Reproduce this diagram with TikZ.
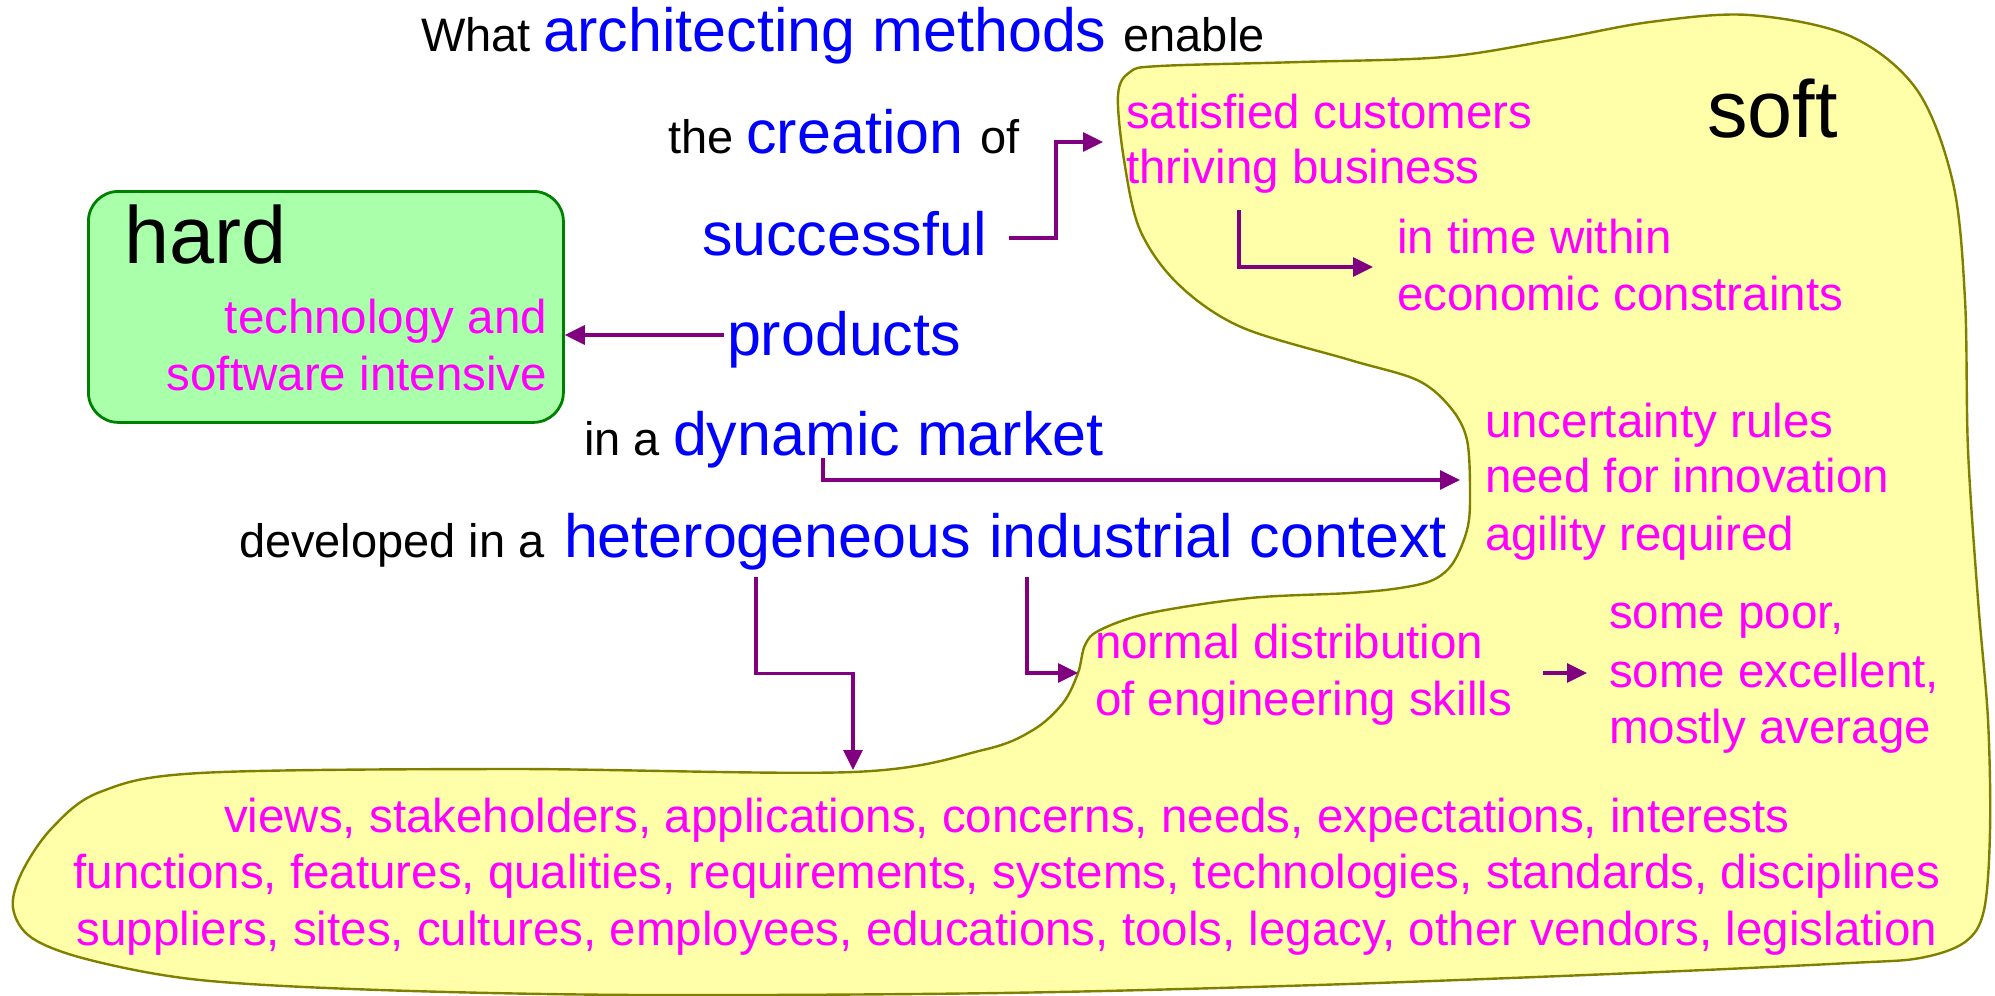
\documentclass[tikz,border=0pt]{standalone}
\usepackage{fontspec}
\setmainfont{Liberation Sans}
\usetikzlibrary{calc,arrows.meta}
\definecolor{blu}{HTML}{0000FF}
\definecolor{mag}{HTML}{FF00FF}
\definecolor{arrc}{HTML}{800080}
\definecolor{hardfill}{HTML}{AAFFAA}
\definecolor{hardline}{HTML}{008000}
\definecolor{softfill}{HTML}{FFFFAA}
\definecolor{softline}{HTML}{808000}
\newcommand{\blktxt}{\fontsize{23.5}{28}\selectfont\color{black}}
\newcommand{\blutxt}{\fontsize{30.5}{36}\selectfont\color{blu}}
\newcommand{\mgttxt}{\fontsize{23.75}{28}\selectfont}
\newcommand{\hugetxt}{\fontsize{40.5}{48}\selectfont}
\tikzset{
  txt/.style={inner sep=0pt, outer sep=0pt, anchor=base west},
  mtxt/.style={txt, font=\mgttxt, text=mag},
  qtxt/.style={txt, font=\blktxt, text=black},
  btxt/.style={txt, font=\blutxt, text=blu},
  bigtxt/.style={txt, font=\hugetxt, text=black},
  arr/.style={draw=arrc, line width=1.65pt, -{Triangle[length=10pt,width=9.5pt]}},
  hardbox/.style={draw=hardline, fill=hardfill, line width=1.4pt, rounded corners=15pt,
    minimum width=237.5pt, minimum height=115.5pt, inner sep=0pt, anchor=north west},
  softblob/.style={draw=softline, fill=softfill, line width=1.2pt},
}
\begin{document}
\begin{tikzpicture}[x=0.5pt, y=-0.5pt]
\useasboundingbox (0,0) rectangle (1995,995);
% soft region
\draw[softblob] plot[smooth cycle, tension=0.55] coordinates {
(1118,95) (1130,72) (1160,66) (1300,62) (1444,57) (1552,40) (1650,22) (1749,15)
(1850,36) (1917,90) (1953,183) (1965,300) (1968,450) (1978,600) (1988,720)
(1990,830) (1984,910) (1965,942) (1920,958) (1850,963) (1635,973) (1317,985)
(1000,993) (640,995) (380,990) (200,980) (90,960) (32,938) (13,908) (22,872)
(52,828) (100,792) (200,773) (510,769) (853,772) (983,750) (1033,730)
(1063,703) (1078,673) (1085,645) (1100,630) (1150,613) (1250,598) (1350,593)
(1400,588) (1433,580) (1453,563) (1467,530) (1470,497) (1467,440) (1450,407)
(1417,380) (1350,360) (1241,327) (1178,284) (1140,230) (1124,160)};
% hard box
\node[hardbox] (hard) at (87,190) {};
\node[bigtxt] (hardlbl) at (124,263) {hard};
\node[mtxt, anchor=base east] (tech1) at (547,333) {technology and};
\node[mtxt, anchor=base east] (tech2) at (547,390) {software intensive};
% soft label
\node[bigtxt] (softlbl) at (1707,137) {soft};
% question lines
\node[txt] (l1) at (421,52) {\blktxt What \blutxt architecting methods \blktxt enable};
\node[txt] (l2) at (668,153) {\blktxt the \blutxt creation \blktxt of};
\node[btxt] (succ) at (702,255) {successful};
\node[btxt] (prod) at (727,355) {products};
\node[qtxt] (ina) at (584,455) {in a};
\node[btxt] (dyn) at (673,455) {dynamic market};
\node[qtxt] (dev) at (239,557) {developed in a};
\node[btxt] (het) at (564,557) {heterogeneous};
\node[btxt] (ind) at (989,557) {industrial context};
% magenta texts
\node[mtxt] (sat1) at (1126,128) {satisfied customers};
\node[mtxt] (sat2) at (1126,183) {thriving business};
\node[mtxt] (tim1) at (1397,253) {in time within};
\node[mtxt] (tim2) at (1397,310) {economic constraints};
\node[mtxt] (unc1) at (1485,437) {uncertainty rules};
\node[mtxt] (unc2) at (1485,492) {need for innovation};
\node[mtxt] (unc3) at (1485,550) {agility required};
\node[mtxt] (norm1) at (1095,658) {normal distribution};
\node[mtxt] (norm2) at (1095,715) {of engineering skills};
\node[mtxt] (some1) at (1609,628) {some poor,};
\node[mtxt] (some2) at (1609,687) {some excellent,};
\node[mtxt] (some3) at (1609,743) {mostly average};
\node[mtxt, anchor=base] (bot1) at (1007,832) {views, stakeholders, applications, concerns, needs, expectations, interests};
\node[mtxt, anchor=base] (bot2) at (1007,888) {functions, features, qualities, requirements, systems, technologies, standards, disciplines};
\node[mtxt, anchor=base] (bot3) at (1007,945) {suppliers, sites, cultures, employees, educations, tools, legacy, other vendors, legislation};
% connector anchor points
\coordinate (sA) at ($(succ.base east)+(22,-17)$);
\coordinate (sB) at ($(sat1.base west)+(-23,14)$);
\coordinate (sM) at ($(sA)!0.5!(sB)$);
\coordinate (pA) at ($(prod.base west)+(-3,-20)$);
\coordinate (tA) at ($(sat2.base west)+(113,27)$);
\coordinate (tB) at ($(tim1.base west)+(-24,14)$);
\coordinate (dA) at ($(dyn.base west)+(150,3)$);
\coordinate (dB) at ($(unc2.base west)+(-25,-12)$);
\coordinate (hA) at ($(het.base west)+(192,20)$);
\coordinate (hB) at ($(bot1.base)+(-154,-62)$);
\coordinate (hM) at ($(hA)!0.5!(hB)$);
\coordinate (iA) at ($(ind.base west)+(38,20)$);
\coordinate (iB) at ($(norm1.base west)+(-17,15)$);
\coordinate (nA) at ($(norm2.base east)+(31,-42)$);
\coordinate (nB) at ($(some2.base west)+(-22,-14)$);
% connectors
\draw[arr] (sA) -| (sM) |- (sB);
\draw[arr] (pA) -- (pA -| hard.east);
\draw[arr] (tA) |- (tB);
\draw[arr] (dA) |- (dB);
\draw[arr] (hA) |- (hM) -| (hB);
\draw[arr] (iA) |- (iB);
\draw[arr] (nA) -- (nB);
\end{tikzpicture}
\end{document}
